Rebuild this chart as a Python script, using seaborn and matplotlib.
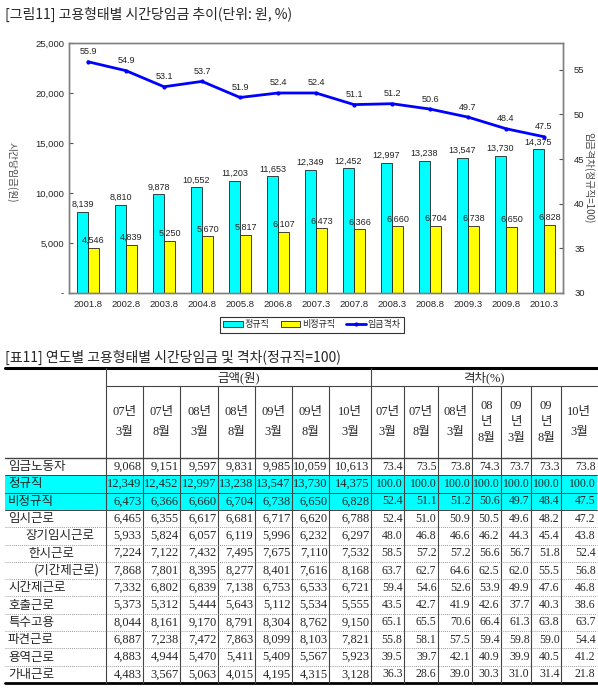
import matplotlib
import matplotlib.pyplot as plt
import numpy as np
import pandas as pd
import seaborn as sns
from matplotlib.lines import Line2D
from matplotlib.patches import Patch, Rectangle

matplotlib.use("Agg")

# chart data
periods = ["2001.8", "2002.8", "2003.8", "2004.8", "2005.8", "2006.8", "2007.3",
           "2007.8", "2008.3", "2008.8", "2009.3", "2009.8", "2010.3"]
regular = [8139, 8810, 9878, 10552, 11203, 11653, 12349, 12452, 12997, 13238, 13547, 13730, 14375]
nonregular = [4546, 4839, 5250, 5670, 5817, 6107, 6473, 6366, 6660, 6704, 6738, 6650, 6828]
wage_gap = [55.9, 54.9, 53.1, 53.7, 51.9, 52.4, 52.4, 51.1, 51.2, 50.6, 49.7, 48.4, 47.5]

# table data
tbl_periods = ["07년 3월", "07년 8월", "08년 3월", "08년 8월", "09년 3월", "09년 8월", "10년 3월"]
tbl_rows = ["임금노동자", "정규직", "비정규직", "임시근로", "장기임시근로", "한시근로",
            "(기간제근로)", "시간제근로", "호출근로", "특수고용", "파견근로", "용역근로", "가내근로"]
tbl_amount = [
    [9068, 9151, 9597, 9831, 9985, 10059, 10613],
    [12349, 12452, 12997, 13238, 13547, 13730, 14375],
    [6473, 6366, 6660, 6704, 6738, 6650, 6828],
    [6465, 6355, 6617, 6681, 6717, 6620, 6788],
    [5933, 5824, 6057, 6119, 5996, 6232, 6297],
    [7224, 7122, 7432, 7495, 7675, 7110, 7532],
    [7868, 7801, 8395, 8277, 8401, 7616, 8168],
    [7332, 6802, 6839, 7138, 6753, 6533, 6721],
    [5373, 5312, 5444, 5643, 5112, 5534, 5555],
    [8044, 8161, 9170, 8791, 8304, 8762, 9150],
    [6887, 7238, 7472, 7863, 8099, 8103, 7821],
    [4883, 4944, 5470, 5411, 5409, 5567, 5923],
    [4483, 3567, 5063, 4015, 4195, 4315, 3128],
]
tbl_gap = [
    [73.4, 73.5, 73.8, 74.3, 73.7, 73.3, 73.8],
    [100.0, 100.0, 100.0, 100.0, 100.0, 100.0, 100.0],
    [52.4, 51.1, 51.2, 50.6, 49.7, 48.4, 47.5],
    [52.4, 51.0, 50.9, 50.5, 49.6, 48.2, 47.2],
    [48.0, 46.8, 46.6, 46.2, 44.3, 45.4, 43.8],
    [58.5, 57.2, 57.2, 56.6, 56.7, 51.8, 52.4],
    [63.7, 62.7, 64.6, 62.5, 62.0, 55.5, 56.8],
    [59.4, 54.6, 52.6, 53.9, 49.9, 47.6, 46.8],
    [43.5, 42.7, 41.9, 42.6, 37.7, 40.3, 38.6],
    [65.1, 65.5, 70.6, 66.4, 61.3, 63.8, 63.7],
    [55.8, 58.1, 57.5, 59.4, 59.8, 59.0, 54.4],
    [39.5, 39.7, 42.1, 40.9, 39.9, 40.5, 41.2],
    [36.3, 28.6, 39.0, 30.3, 31.0, 31.4, 21.8],
]

W, H = 598, 691
CYAN, YELLOW, BLUE = "#00FFFF", "#FFFF00", "#0000FF"
SANS = ["Liberation Sans", "Noto Sans CJK KR"]
SERIF = ["Liberation Serif", "Noto Sans CJK KR"]
KR = ["Noto Sans CJK KR", "DejaVu Sans"]


def fx(px):
    return px / W


def fy(py):
    return 1 - py / H


sns.set_style("white")
plt.rcParams["font.family"] = SANS
plt.rcParams["axes.unicode_minus"] = False

fig = plt.figure(figsize=(W / 100, H / 100), dpi=100)

# ---------- table layer (pixel coordinates) ----------
tab = fig.add_axes([0, 0, 1, 1])
tab.set_xlim(0, W)
tab.set_ylim(H, 0)
tab.axis("off")

x_left, x_right = 5, 597
x_cols = [106, 143, 180, 218, 255, 292, 329, 371, 404, 438, 472, 501, 531, 561, 597]
y_top, y_mid, y_head, y_bot = 368, 386, 458, 683
row_h = (y_bot - y_head) / len(tbl_rows)
indent = {"장기임시근로": 17, "한시근로": 20, "(기간제근로)": 26}

for r in (1, 2):
    tab.add_patch(Rectangle((x_left, y_head + r * row_h), x_right - x_left, row_h,
                            facecolor=CYAN, edgecolor="none", zorder=0))

tab.plot([x_left, x_right], [y_top, y_top], color="black", lw=2.2)
tab.plot([x_cols[0], x_right], [y_mid, y_mid], color="#444444", lw=0.8)
tab.plot([x_left, x_right], [y_head, y_head], color="#444444", lw=1.0)
tab.plot([x_left, x_right], [y_bot, y_bot], color="black", lw=2.0)
for x in x_cols[:-1]:
    y0 = y_top if x in (106, 371) else y_mid
    tab.plot([x, x], [y0, y_bot], color="#444444", lw=0.8)
for r in range(1, len(tbl_rows)):
    y = y_head + r * row_h
    if r in (1, 2, 3):
        tab.plot([x_left, x_right], [y, y], color="#444444", lw=0.7)
    else:
        tab.plot([x_left, x_right], [y, y], color="#777777", lw=0.6, ls=(0, (1, 1.5)))

tab.text((x_cols[0] + x_cols[7]) / 2, (y_top + y_mid) / 2 + 1, "금액(원)", ha="center", va="center",
         fontsize=9, family=SERIF)
tab.text((x_cols[7] + x_right) / 2, (y_top + y_mid) / 2 + 1, "격차(%)", ha="center", va="center",
         fontsize=9, family=SERIF)

for j, p in enumerate(tbl_periods):
    cx = (x_cols[j] + x_cols[j + 1]) / 2
    tab.text(cx, (y_mid + y_head) / 2, p.replace(" ", "\n"), ha="center", va="center",
             fontsize=9, linespacing=1.9, family=SERIF)
    cx = (x_cols[7 + j] + x_cols[8 + j]) / 2
    if j in (3, 4, 5):
        label = p[:2] + "\n" + p[2] + "\n" + p[4:]
        tab.text(cx, (y_mid + y_head) / 2, label, ha="center", va="center",
                 fontsize=9, linespacing=1.45, family=SERIF)
    else:
        tab.text(cx, (y_mid + y_head) / 2, p.replace(" ", "\n"), ha="center", va="center",
                 fontsize=9, linespacing=1.9, family=SERIF)

for r, label in enumerate(tbl_rows):
    y = y_head + (r + 0.5) * row_h
    tab.text(x_left + 3 + indent.get(label, 0), y, label, ha="left", va="center",
             fontsize=9, family=KR)
    for j, v in enumerate(tbl_amount[r]):
        tab.text(x_cols[j + 1] - 1.5, y, f"{v:,}", ha="right", va="center",
                 fontsize=9, family=SERIF)
    for j, v in enumerate(tbl_gap[r]):
        tab.text(x_cols[8 + j] - 1.5, y, f"{v:.1f}", ha="right", va="center",
                 fontsize=8.5, family=SERIF)

fig.text(fx(5), fy(14), "[그림11] 고용형태별 시간당임금 추이(단위: 원, %)", fontsize=10,
         va="center", family=KR)
fig.text(fx(5), fy(357), "[표11] 연도별 고용형태별 시간당임금 및 격차(정규직=100)", fontsize=10,
         va="center", family=KR)

# ---------- chart ----------
ax = fig.add_axes([fx(69), fy(293), (563 - 69) / W, (293 - 43) / H])
n = len(periods)
df = pd.DataFrame({
    "period": periods * 2,
    "wage": regular + nonregular,
    "type": ["정규직"] * n + ["비정규직"] * n,
})
sns.barplot(data=df, x="period", y="wage", hue="type", hue_order=["정규직", "비정규직"],
            palette={"정규직": CYAN, "비정규직": YELLOW}, width=0.58, saturation=1,
            edgecolor="#222222", linewidth=0.6, legend=False, ax=ax)
for cont, vals in zip(ax.containers, [regular, nonregular]):
    ax.bar_label(cont, labels=[f"{v:,}" for v in vals], padding=2, fontsize=6.5, color="#222222")

ax.set_ylim(0, 25000)
ax.set_yticks(range(0, 25001, 5000))
ax.set_yticklabels(["-"] + [f"{v:,}" for v in range(5000, 25001, 5000)])
ax.set_xlabel("")
ax.set_ylabel("")
ax.set_xticks(np.arange(-0.5, n, 1), minor=True)
ax.tick_params(axis="x", which="major", length=0, labelsize=6.8, pad=5)
ax.tick_params(axis="x", which="minor", length=3, direction="out", color="#555555")
ax.tick_params(axis="y", length=3, direction="in", labelsize=6.8, color="#555555")

ax2 = ax.twinx()
sns.lineplot(x=np.arange(n), y=wage_gap, ax=ax2, color=BLUE, linewidth=2,
             marker="o", markersize=3, markeredgewidth=0)
for i, v in enumerate(wage_gap):
    ax2.annotate(f"{v:.1f}", (i, v), xytext=(0, 4), textcoords="offset points",
                 ha="center", va="bottom", fontsize=6.5, color="#222222")
ax2.set_ylim(30, 58)
ax2.set_yticks(range(30, 56, 5))
ax2.set_ylabel("")
ax2.tick_params(axis="y", length=3, direction="in", labelsize=6.8, color="#555555", pad=8)
ax.set_xlim(-0.5, n - 0.5)

for a in (ax, ax2):
    for s in a.spines.values():
        s.set_color("#808080")
        s.set_linewidth(1)

fig.text(fx(12), fy(172), "시간당임금(원)", rotation=270, ha="center", va="center",
         fontsize=7, color="#444444", family=KR)
fig.text(fx(589), fy(178), "임금격차(정규직=100)", rotation=270, ha="center", va="center",
         fontsize=7, color="#444444", family=KR)

handles = [
    Patch(facecolor=CYAN, edgecolor="#222222", linewidth=0.6),
    Patch(facecolor=YELLOW, edgecolor="#222222", linewidth=0.6),
    Line2D([], [], color=BLUE, lw=2, marker="o", markersize=3, markeredgewidth=0),
]
leg = fig.legend(handles, ["정규직", "비정규직", "임금격차"], loc="center",
                 bbox_to_anchor=(fx(312), fy(325)), ncol=3, fontsize=6.5, frameon=True,
                 fancybox=False, edgecolor="black", handlelength=2.2, handleheight=0.6,
                 columnspacing=1.2, handletextpad=0.2, borderpad=0.35, prop={"family": KR, "size": 6.5})
leg.get_frame().set_linewidth(0.8)

fig.savefig("out.png", dpi=100)
